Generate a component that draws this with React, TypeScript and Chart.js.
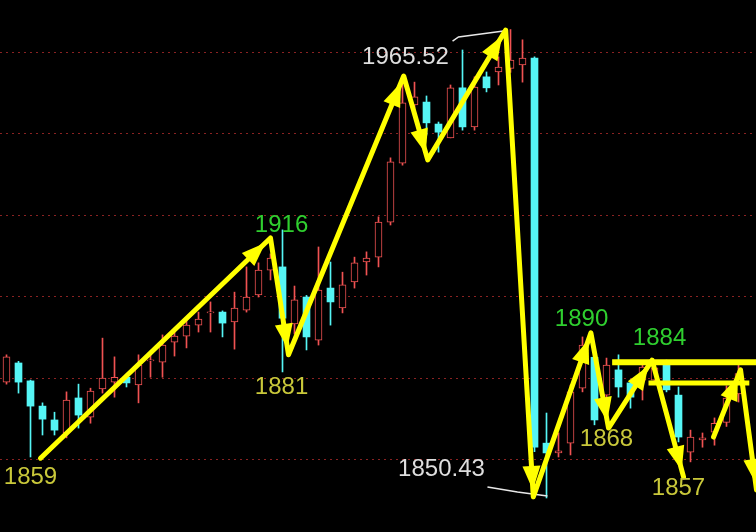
import React, { useEffect, useRef } from 'react';
import { Chart, registerables } from 'chart.js';

Chart.register(...registerables);

// ---- Candle data (index = bar number) ----
const opens = [
  1878.9, 1883.6, 1879.2, 1873.0, 1869.6, 1866.4, 1875.0, 1870.3, 1877.2, 1878.9,
  1880.1, 1878.2, 1884.1, 1883.8, 1888.7, 1890.2, 1892.9, 1895.9, 1896.1, 1893.7,
  1896.6, 1900.3, 1906.4, 1907.2, 1893.2, 1899.8, 1889.2, 1902.0, 1897.1, 1903.5,
  1908.4, 1909.6, 1918.2, 1932.7, 1947.0, 1947.7, 1942.3, 1938.9, 1951.2, 1941.6,
  1953.9, 1955.1, 1956.0, 1956.8, 1958.5, 1863.9, 1861.5, 1863.9, 1877.4, 1885.0,
  1875.7, 1881.9, 1878.7, 1879.4, 1879.4, 1883.3, 1875.7, 1861.7, 1864.7, 1866.6,
  1869.0, 1876.0,
];
const highs = [
  1885.6, 1884.0, 1879.4, 1873.8, 1871.5, 1876.5, 1878.4, 1877.4, 1889.7, 1885.1,
  1880.4, 1885.6, 1885.6, 1890.5, 1891.7, 1894.2, 1896.1, 1898.6, 1896.4, 1901.0,
  1907.2, 1908.2, 1910.4, 1916.3, 1902.5, 1900.2, 1912.1, 1908.4, 1905.9, 1909.6,
  1910.9, 1919.5, 1934.0, 1953.0, 1952.6, 1949.2, 1942.8, 1951.9, 1960.5, 1953.9,
  1955.1, 1958.8, 1965.52, 1963.0, 1958.8, 1871.3, 1866.4, 1878.2, 1890.0, 1886.5,
  1884.8, 1885.6, 1879.4, 1883.3, 1883.8, 1884.3, 1877.7, 1867.1, 1866.4, 1870.1,
  1878.0, 1883.5,
];
const lows = [
  1878.4, 1876.2, 1860.5, 1865.9, 1865.9, 1865.2, 1867.6, 1868.8, 1876.2, 1875.2,
  1877.7, 1873.8, 1880.1, 1880.1, 1885.3, 1887.3, 1891.2, 1891.2, 1890.0, 1887.0,
  1896.1, 1899.8, 1904.0, 1881.4, 1890.7, 1886.8, 1888.0, 1892.9, 1895.9, 1902.0,
  1905.2, 1907.2, 1917.5, 1932.2, 1946.2, 1939.6, 1935.4, 1938.9, 1940.8, 1940.8,
  1950.2, 1951.9, 1955.0, 1952.6, 1861.8, 1850.43, 1860.5, 1861.0, 1876.5, 1868.4,
  1873.3, 1875.2, 1872.5, 1874.5, 1878.9, 1876.5, 1864.2, 1859.3, 1862.9, 1863.4,
  1868.0, 1874.0,
];
const closes = [
  1885.1, 1878.9, 1873.0, 1869.8, 1867.1, 1874.5, 1870.8, 1876.7, 1879.9, 1880.1,
  1878.7, 1883.1, 1884.3, 1888.0, 1890.2, 1892.9, 1894.4, 1896.1, 1893.4, 1897.1,
  1899.8, 1906.4, 1909.4, 1894.6, 1899.1, 1890.0, 1901.5, 1898.6, 1902.8, 1908.2,
  1909.4, 1918.2, 1933.0, 1947.5, 1949.0, 1942.6, 1940.3, 1951.2, 1941.6, 1951.4,
  1951.2, 1956.3, 1958.0, 1958.5, 1862.9, 1861.5, 1862.0, 1876.5, 1888.0, 1869.6,
  1883.1, 1877.7, 1875.2, 1882.6, 1882.4, 1877.0, 1865.4, 1865.4, 1865.2, 1868.8,
  1875.0, 1881.0,
];

// price grid levels
const gridLevels = [1860, 1880, 1900, 1920, 1940, 1960];

// ---- Hand-drawn annotations (data space: bar index, price) ----
const zigzagIdx = [2.83, 22.0, 23.5, 33.1, 35.1, 41.6, 43.9, 48.7, 50.17, 53.8, 56.42];
const zigzagPrice = [1860.2, 1914.3, 1885.6, 1954.1, 1933.5, 1965.4, 1850.7, 1891.0, 1867.6, 1884.3, 1855.6];
const rightArrowIdx = [58.92, 61.17, 62.5];
const rightArrowPrice = [1865.4, 1881.9, 1852.4];
const levelPrices = [1883.8, 1878.7];
const levelFrom = [50.47, 53.5];
const levelTo = [63.0, 61.9];
const levelWidths = [6, 5];

const highMarkIdx = [37.17, 37.67, 41.58];
const highMarkPrice = [1962.7, 1963.7, 1965.2];
const lowMarkIdx = [40.08, 42.58, 45.08];
const lowMarkPrice = [1853.1, 1851.9, 1850.9];

const labelTexts = ['1859', '1916', '1881', '1965.52', '1850.43', '1890', '1884', '1868', '1857'];
const labelIdx = [2.0, 22.92, 22.92, 33.25, 36.25, 47.92, 54.42, 50.0, 56.0];
const labelPrice = [1855.6, 1917.5, 1877.7, 1958.8, 1857.5, 1894.2, 1889.7, 1864.9, 1852.9];
const labelKinds = ['low', 'high', 'low', 'extreme', 'extreme', 'high', 'high', 'low', 'low'];

const RED = '#f05252';
const CYAN = '#55f5f5';
const YELLOW = '#ffff00';
const kindColor: Record<string, string> = { low: '#c9c83a', high: '#2fcf2f', extreme: '#dedede' };

export default function App() {
  const ref = useRef<HTMLCanvasElement | null>(null);

  useEffect(() => {
    if (!ref.current) return;
    const up = opens.map((o, i) => closes[i] >= o);
    const wickData = opens.map((_, i) => ({ x: i, y: [lows[i], highs[i]] }));
    const bodyData = opens.map((o, i) => ({ x: i, y: [o, closes[i]] }));
    const colors = up.map((u) => (u ? RED : CYAN));

    const annotate = {
      id: 'annotate',
      beforeDatasetsDraw(chart: any) {
        const { ctx, scales, chartArea } = chart;
        const ys = scales.y;
        ctx.save();
        ctx.strokeStyle = '#8a2222';
        ctx.lineWidth = 1;
        ctx.setLineDash([2, 4]);
        gridLevels.forEach((g) => {
          const y = Math.round(ys.getPixelForValue(g)) + 0.5;
          ctx.beginPath();
          ctx.moveTo(chartArea.left, y);
          ctx.lineTo(chartArea.right, y);
          ctx.stroke();
        });
        ctx.restore();
      },
      afterDatasetsDraw(chart: any) {
        const { ctx, scales } = chart;
        const xs = scales.x;
        const ys = scales.y;
        const px = (i: number) => xs.getPixelForValue(i);
        const py = (p: number) => ys.getPixelForValue(p);
        ctx.save();

        // white marker lines
        ctx.strokeStyle = '#e8e8e8';
        ctx.lineWidth = 1.5;
        [[highMarkIdx, highMarkPrice], [lowMarkIdx, lowMarkPrice]].forEach(([ix, pr]) => {
          ctx.beginPath();
          ix.forEach((v: number, k: number) => {
            const X = px(v), Y = py(pr[k]);
            if (k === 0) ctx.moveTo(X, Y); else ctx.lineTo(X, Y);
          });
          ctx.stroke();
        });

        // yellow polylines with arrowheads
        ctx.strokeStyle = YELLOW;
        ctx.fillStyle = YELLOW;
        ctx.lineWidth = 5;
        ctx.lineCap = 'round';
        ctx.lineJoin = 'round';
        const head = (x0: number, y0: number, x1: number, y1: number) => {
          const dx = x1 - x0, dy = y1 - y0;
          const L = Math.hypot(dx, dy);
          const ux = dx / L, uy = dy / L;
          const nx = -uy, ny = ux;
          const tx = x1 - ux * 7, ty = y1 - uy * 7;
          const bx = tx - ux * 24, by = ty - uy * 24;
          ctx.beginPath();
          ctx.moveTo(tx, ty);
          ctx.lineTo(bx + nx * 9, by + ny * 9);
          ctx.lineTo(bx - nx * 9, by - ny * 9);
          ctx.closePath();
          ctx.fill();
        };
        const poly = (ix: number[], pr: number[]) => {
          ctx.beginPath();
          ix.forEach((v, k) => {
            const X = px(v), Y = py(pr[k]);
            if (k === 0) ctx.moveTo(X, Y); else ctx.lineTo(X, Y);
          });
          ctx.stroke();
          for (let k = 1; k < ix.length; k++) {
            head(px(ix[k - 1]), py(pr[k - 1]), px(ix[k]), py(pr[k]));
          }
        };
        poly(zigzagIdx, zigzagPrice);
        poly(rightArrowIdx, rightArrowPrice);

        ctx.lineCap = 'butt';
        levelPrices.forEach((p, k) => {
          ctx.lineWidth = levelWidths[k];
          ctx.beginPath();
          ctx.moveTo(px(levelFrom[k]), py(p));
          ctx.lineTo(px(levelTo[k]), py(p));
          ctx.stroke();
        });

        // labels
        ctx.font = '24px Arial, "Liberation Sans", sans-serif';
        ctx.textAlign = 'center';
        ctx.textBaseline = 'middle';
        labelTexts.forEach((t, k) => {
          ctx.fillStyle = kindColor[labelKinds[k]];
          ctx.fillText(t, px(labelIdx[k]), py(labelPrice[k]));
        });
        ctx.restore();
      },
    };

    const chart = new Chart(ref.current, {
      type: 'bar',
      data: {
        datasets: [
          {
            label: 'body',
            data: bodyData as any,
            order: 0,
            grouped: false,
            barThickness: 7,
            minBarLength: 1,
            backgroundColor: up.map((u) => (u ? '#000000' : CYAN)),
            borderColor: colors,
            borderWidth: up.map((u) => (u ? 1 : 0)),
            borderSkipped: false,
          } as any,
          {
            label: 'wick',
            data: wickData as any,
            order: 1,
            grouped: false,
            barThickness: 1,
            backgroundColor: colors,
            borderWidth: 0,
          } as any,
        ],
      },
      options: {
        animation: false,
        responsive: false,
        maintainAspectRatio: false,
        layout: { padding: 0 },
        plugins: { legend: { display: false }, tooltip: { enabled: false }, title: { display: false } },
        scales: {
          x: { type: 'linear', display: false, min: -0.54167, max: 62.45833, offset: false },
          y: { type: 'linear', display: false, min: 1842.07, max: 1972.78 },
        },
      },
      plugins: [annotate],
    });
    return () => chart.destroy();
  }, []);

  return (
    <div style={{ position: 'fixed', left: 0, top: 0, width: 756, height: 532, background: '#000', overflow: 'hidden' }}>
      <canvas ref={ref} width={756} height={532} style={{ display: 'block' }} />
    </div>
  );
}
